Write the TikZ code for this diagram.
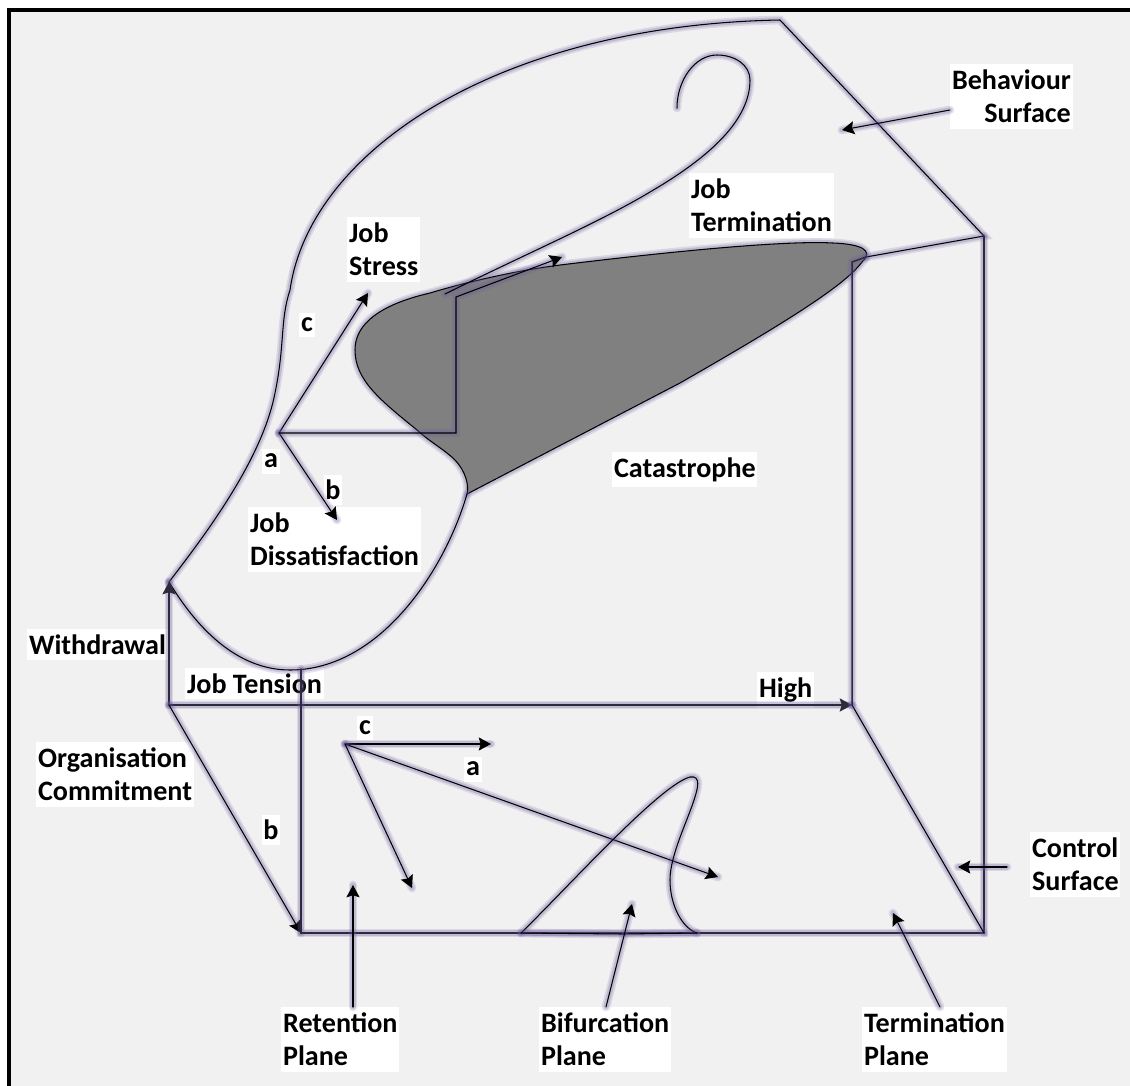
\documentclass[tikz,border=0pt]{standalone}
\usepackage{fontspec}
\setmainfont{Carlito}
\usepackage{tikz}
\usetikzlibrary{arrows.meta}

\begin{document}
\begin{tikzpicture}
		[x=0.02cm,y=-0.02cm,line cap=round,
		%Styles
		glow/.style={preaction={draw=glowcolor,line width=5pt,opacity=.16,-},preaction={draw=glowcolor,line width=3pt,opacity=.24,-}},
		surface line/.style={glow,draw=black,line width=.6pt},
		plane line/.style={glow,draw=boxcolor,line width=.85pt},
		vector/.style={surface line,->},
		tag/.style={fill=white,inner xsep=1pt,inner ysep=3.1pt,font=\fontsize{16}{19}\selectfont\bfseries,align=left},
		letter/.style={fill=white,inner xsep=1pt,inner ysep=3.1pt,font=\fontsize{16}{19}\selectfont\bfseries},
		>={Stealth[length=7pt,width=7.5pt,inset=1.2pt]}
		]

		%Colors
		\definecolor{glowcolor}{HTML}{6A5A9E}
		\definecolor{boxcolor}{HTML}{2E2A3C}
		\definecolor{page}{HTML}{F1F1F1}
		\definecolor{fold}{HTML}{808080}

		%The frame
		\useasboundingbox (0,0) rectangle (1130,1086);
		\fill[white] (0,0) rectangle (1130,1086);
		\fill[page] (9,10) rectangle (1130,1086);
		\draw[line width=2.3pt,line cap=butt] (9,1086) -- (9,10) -- (1130,10);

		%The labels
		\node[tag,anchor=north east,align=right] (behaviour) at (1073,64) {Behaviour\\Surface};
		\node[tag,anchor=north west] (termination) at (689,173) {Job\\Termination};
		\node[tag,anchor=north west] (stress) at (347,217) {Job\\Stress};
		\node[letter] (upperc) at (307,325) {c};
		\node[letter] (uppera) at (271,461) {a};
		\node[letter] (upperb) at (333,490) {b};
		\node[tag,anchor=north west] (dissatisfaction) at (248,507) {Job\\Dissatisfaction};
		\node[tag,anchor=north west] (catastrophe) at (612,452) {Catastrophe};
		\node[tag,anchor=north west] (withdrawal) at (27,629) {Withdrawal};
		\node[tag,anchor=north west] (tension) at (185,668) {Job Tension};
		\node[tag,anchor=north west] (high) at (757,672) {High};
		\node[tag,anchor=north west] (commitment) at (36,742) {Organisation\\Commitment};
		\node[letter] (lowerc) at (365,728) {c};
		\node[letter] (lowera) at (473,769) {a};
		\node[letter] (lowerb) at (271,830) {b};
		\node[tag,anchor=north west] (control) at (1030,832) {Control\\Surface};
		\node[tag,anchor=north west] (retention) at (281,1007) {Retention\\Plane};
		\node[tag,anchor=north west] (bifurcation) at (539,1007) {Bifurcation\\Plane};
		\node[tag,anchor=north west] (terminationplane) at (862,1007) {Termination\\Plane};

		%Corners of the box
		\coordinate (tip) at (169,582);
		\coordinate (base) at (169,705);
		\coordinate (front) at (301,933);
		\coordinate (right) at (984,933);
		\coordinate (back) at (852,705);
		\coordinate (backtop) at (852,262);
		\coordinate (righttop) at (984,236);
		\coordinate (apex) at (780,20);
		\coordinate (lowest) at (301,669);
		\coordinate (cusp) at (467,494);
		\coordinate (foldend) at (866,257);

		%The graphic
		\draw[surface line,fill=fold] (cusp)
			.. controls (469,485) and (466,472) .. (455,460)
			.. controls (445,450) and (430,442) .. (417,430)
			.. controls (380,400) and (355,380) .. (355,350)
			.. controls (355,315) and (400,300) .. (430,293)
			.. controls (470,281) and (520,270) .. (560,265)
			.. controls (650,254) and (780,240) .. (833,243)
			.. controls (860,244) and (875,250) .. (862,262)
			.. controls (845,285) and (790,320) .. (680,383)
			-- cycle;
		\draw[surface line] (tip)
			.. controls (205,535) and (262,460) .. (275,393)
			.. controls (285,345) and (280,320) .. (290,290)
			.. controls (310,150) and (500,25) .. (apex)
			-- (righttop) -- (foldend);
		\draw[surface line] (cusp)
			.. controls (445,570) and (380,670) .. (290,670)
			.. controls (235,670) and (195,625) .. (tip);
		\draw[surface line] (445,294)
			.. controls (530,252) and (600,222) .. (650,192)
			.. controls (710,157) and (750,120) .. (750,80)
			.. controls (750,65) and (735,55) .. (717,55)
			.. controls (695,55) and (677,80) .. (677,108);

		%The box
		\draw[plane line,->] (base) -- (tip);
		\draw[plane line,->] (base) -- (back);
		\draw[surface line,->] (base) -- (front);
		\draw[plane line] (lowest) -- (front) -- (right) -- (righttop);
		\draw[surface line] (back) -- (right);
		\draw[plane line] (back) -- (backtop) -- (foldend);

		%The vectors
		\coordinate (upper) at (279,433);
		\coordinate (lower) at (345,744);
		\draw[vector] (upper) -- (368,293);
		\draw[vector] (upper) -- (337,520);
		\draw[surface line,->] (upper) -- (456,433) -- (456,297) -- (562,257);
		\draw[vector] (lower) -- (491,744);
		\draw[vector] (lower) -- (718,877);
		\draw[vector] (lower) -- (412,888);

		%The cusp on the control surface
		\draw[surface line] (521,933)
			.. controls (570,885) and (660,785) .. (690,777)
			.. controls (702,775) and (697,790) .. (695,797)
			.. controls (688,820) and (670,855) .. (670,880)
			.. controls (670,905) and (682,928) .. (697,933);
		\draw[surface line] (521,933) -- (623,934) -- (697,933);

		%The pointers
		\draw[vector] (behaviour.west |- 0,110) -- (842,130);
		\draw[vector] (1007,867) -- (958,867);
		\draw[vector] (retention.north -| 353,0) -- (353,885);
		\draw[vector] (bifurcation.north -| 606,0) -- (632,904);
		\draw[vector] (terminationplane.north -| 940,0) -- (893,913);
	\end{tikzpicture}
\end{document}
